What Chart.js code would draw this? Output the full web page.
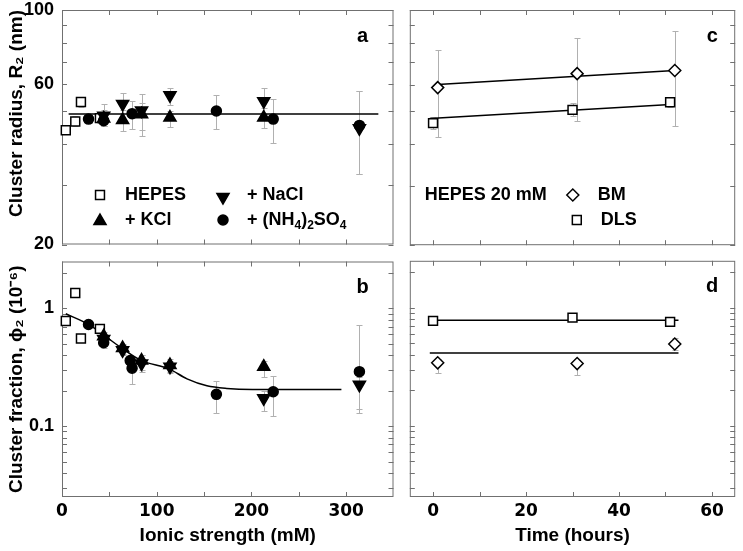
<!DOCTYPE html>
<html>
<head>
<meta charset="utf-8">
<script src="https://cdn.jsdelivr.net/npm/chart.js@4.4.1/dist/chart.umd.min.js"></script>
<style>
  html, body { margin: 0; padding: 0; background: #fff; }
  #wrap { position: relative; width: 743px; height: 551px; overflow: hidden; }
  canvas { position: absolute; }
</style>
</head>
<body>
<div id="wrap">
  <canvas id="pa" width="402" height="253" style="left:0;top:0"></canvas>
  <canvas id="pb" width="402" height="298" style="left:0;top:253px"></canvas>
  <canvas id="pc" width="341" height="253" style="left:402px;top:0"></canvas>
  <canvas id="pd" width="341" height="298" style="left:402px;top:253px"></canvas>
</div>
<script>
// ticks
const ionicTicks = [0, 50, 100, 150, 200, 250, 300];
const ionicLabels = [0, 100, 200, 300];
const timeTicks = [0, 10, 20, 30, 40, 50, 60];
const timeLabels = [0, 20, 40, 60];
const radiusTicks = [20, 30, 40, 50, 60, 70, 80, 90, 100];
const radiusLabels = [20, 60, 100];
const fracTicks = [0.03, 0.04, 0.05, 0.06, 0.07, 0.08, 0.09, 0.1, 0.2, 0.3, 0.4, 0.5, 0.6, 0.7, 0.8, 0.9, 1, 2];
const fracLabels = [0.1, 1];

// panels a / b : ionic strength (mM)
const hepesX = [4, 14, 20, 40];
const hepesR = [43.8, 46.5, 53.2, 47.6];
const hepesRErr = [[43, 44.8], [45, 48.3], [51.5, 55], [46, 49.3]];
const hepesPhi = [0.78, 1.35, 0.555, 0.67];
const hepesPhiErr = [null, null, null, [0.62, 0.74]];

const kclX = [44, 64, 84, 114, 213];
const kclR = [47.5, 47.0, 48.9, 47.8, 47.8];
const kclRErr = [[45, 50.5], [43.5, 50.5], [44, 53], [44.9, 50], [44.5, 51]];
const kclPhi = [0.58, 0.46, 0.36, 0.33, 0.32];
const kclPhiErr = [[0.53, 0.63], [0.41, 0.5], [0.3, 0.4], [0.29, 0.37], [0.26, 0.36]];

const naclX = [44, 64, 84, 114, 213, 314];
const naclR = [48.4, 52.5, 50.2, 55.7, 53.5, 44.4];
const naclRErr = [[45, 52.5], [47, 56.5], [42, 56], [52, 58.5], [49, 58.5], [32.5, 57.3]];
const naclPhi = [0.55, 0.44, 0.34, 0.32, 0.172, 0.224];
const naclPhiErr = [[0.5, 0.6], [0.4, 0.49], [0.29, 0.4], [0.28, 0.36], [0.135, 0.2], [0.14, 0.26]];

const ammRX = [28, 44, 74, 163, 223, 314];
const ammR = [47.3, 46.8, 49.1, 50.0, 47.3, 45.3];
const ammRErr = [[46, 48.5], [45, 49], [44.1, 53.5], [44.1, 55.8], [40.2, 54.4], [32.5, 57.3]];
const ammPhiX = [28, 44, 72, 74, 163, 223, 314];
const ammPhi = [0.73, 0.51, 0.36, 0.31, 0.186, 0.196, 0.29];
const ammPhiErr = [[0.69, 0.77], [0.46, 0.56], [0.33, 0.39], [0.23, 0.35], [0.128, 0.24], [0.123, 0.266], [0.13, 0.72]];

const rFitX = [7, 334];
const rFit = [49, 49];
const phiFitX = [4, 28, 63, 84, 113, 132, 153, 174, 201, 295];
const phiFit = [0.9, 0.73, 0.46, 0.36, 0.306, 0.252, 0.22, 0.209, 0.205, 0.205];

// panels c / d : time (hours)
const bmT = [1, 31, 52];
const bmR = [58.8, 64.7, 66.1];
const bmRErr = [[41.8, 76.1], [46.8, 82.7], [45.2, 86.5]];
const bmPhi = [0.342, 0.337, 0.494];
const bmPhiErr = [[0.278, 0.37], [0.27, 0.36], [0.44, 0.56]];
const dlsT = [0, 30, 51];
const dlsR = [46.1, 50.5, 53.2];
const dlsRErr = [[44.3, 48], [48.3, 52.8], [51.5, 54.8]];
const dlsPhi = [0.775, 0.825, 0.76];

const bmRFitT = [1, 52];
const bmRFit = [60.1, 66.1];
const dlsRFitT = [-0.7, 52];
const dlsRFit = [47.6, 52.5];
const phiFitT = [-0.7, 52.8];
const bmPhiFit = [0.414, 0.414];
const dlsPhiFit = [0.784, 0.784];

const FONT = '"Liberation Sans", Arial, sans-serif';
Chart.defaults.font.family = FONT;
Chart.defaults.color = '#000';

const shapes = {
  square: { style: 'rect', r: 6.3, rot: 0, fill: '#fff' },
  diamond: { style: 'rectRot', r: 6, rot: 0, fill: '#fff' },
  up: { style: 'triangle', r: 7, rot: 0, fill: '#000' },
  down: { style: 'triangle', r: 7, rot: 180, fill: '#000' },
  circle: { style: 'circle', r: 5, rot: 0, fill: '#000' }
};

const pts = (xs, ys) => xs.map((x, i) => ({ x: x, y: ys[i] }));

function markers(shape, xs, ys, errs) {
  const s = shapes[shape];
  return {
    data: pts(xs, ys),
    errs: errs || null,
    pointStyle: s.style,
    pointRadius: s.r,
    pointRotation: s.rot,
    pointBackgroundColor: s.fill,
    pointBorderColor: '#000',
    pointBorderWidth: 1.5,
    showLine: false,
    clip: false
  };
}

function fitLine(xs, ys) {
  return {
    data: pts(xs, ys),
    showLine: true,
    pointRadius: 0,
    borderColor: '#000',
    borderWidth: 1.5,
    cubicInterpolationMode: 'monotone',
    clip: false
  };
}

function drawMarker(ctx, shape, x, y) {
  const s = shapes[shape];
  ctx.save();
  ctx.fillStyle = s.fill;
  ctx.strokeStyle = '#000';
  ctx.lineWidth = 1.5;
  Chart.helpers.drawPoint(ctx, { pointStyle: s.style, radius: s.r, rotation: s.rot, borderWidth: 1.5 }, x, y);
  ctx.restore();
}

function drawRich(ctx, parts, x, y) {
  parts.forEach(p => {
    ctx.font = p[1] ? 'bold 12px ' + FONT : 'bold 18px ' + FONT;
    ctx.fillText(p[0], x, p[1] ? y + 6 : y);
    x += ctx.measureText(p[0]).width;
  });
}

// gray error bars under the markers
const errorBars = {
  id: 'errorBars',
  beforeDatasetsDraw(chart) {
    const { ctx } = chart;
    const xs = chart.scales.x, ys = chart.scales.y;
    ctx.save();
    ctx.strokeStyle = '#b0b0b0';
    ctx.lineWidth = 1;
    chart.data.datasets.forEach(ds => {
      if (!ds.errs) return;
      ds.data.forEach((p, i) => {
        const e = ds.errs[i];
        if (!e) return;
        const px = Math.round(xs.getPixelForValue(p.x)) + 0.5;
        const y0 = Math.round(ys.getPixelForValue(e[0])) + 0.5;
        const y1 = Math.round(ys.getPixelForValue(e[1])) + 0.5;
        ctx.beginPath();
        ctx.moveTo(px, y0); ctx.lineTo(px, y1);
        ctx.moveTo(px - 3, y0); ctx.lineTo(px + 3, y0);
        ctx.moveTo(px - 3, y1); ctx.lineTo(px + 3, y1);
        ctx.stroke();
      });
    });
    ctx.restore();
  }
};

// frame, inward ticks, panel letter and legend
const deco = {
  id: 'deco',
  beforeDatasetsDraw(chart) {
    const { ctx, chartArea: a } = chart;
    const xs = chart.scales.x, ys = chart.scales.y;
    ctx.save();
    ctx.strokeStyle = '#707070';
    ctx.lineWidth = 1;
    ctx.strokeRect(a.left + 0.5, a.top + 0.5, a.right - a.left - 1, a.bottom - a.top - 1);
    ctx.beginPath();
    xs.ticks.forEach(t => {
      const px = Math.round(xs.getPixelForValue(t.value)) + 0.5;
      ctx.moveTo(px, a.bottom); ctx.lineTo(px, a.bottom - 5);
      ctx.moveTo(px, a.top); ctx.lineTo(px, a.top + 5);
    });
    ys.ticks.forEach(t => {
      const py = Math.round(ys.getPixelForValue(t.value)) + 0.5;
      ctx.moveTo(a.left, py); ctx.lineTo(a.left + 5, py);
      ctx.moveTo(a.right, py); ctx.lineTo(a.right - 5, py);
    });
    ctx.stroke();
    ctx.restore();
  },
  afterDraw(chart, args, opts) {
    const { ctx, chartArea: a } = chart;
    ctx.save();
    ctx.fillStyle = '#000';
    ctx.textBaseline = 'middle';
    ctx.textAlign = 'center';
    ctx.font = 'bold 20px ' + FONT;
    ctx.fillText(opts.letter, a.right - opts.letterDx, a.top + 26);
    ctx.textAlign = 'left';
    (opts.items || []).forEach(it => {
      if (it.shape) drawMarker(ctx, it.shape, a.left + it.mx, a.top + it.my);
      drawRich(ctx, it.parts, a.left + it.tx, a.top + it.ty);
    });
    ctx.restore();
  }
};

function xScale(tickVals, labelVals, min, max, show, title) {
  return {
    type: 'linear', min: min, max: max,
    grid: { display: false, drawTicks: false },
    border: { display: false },
    afterBuildTicks: s => { s.ticks = tickVals.map(v => ({ value: v })); },
    ticks: {
      display: show, autoSkip: false, maxRotation: 0, padding: 4,
      font: { family: '"DejaVu Sans"', size: 17, weight: 'bold' },
      callback: v => labelVals.includes(v) ? String(v) : ''
    },
    title: {
      display: !!title, text: title || '',
      font: { size: 19, weight: 'bold' },
      padding: { top: 0, bottom: 4 }
    },
    afterFit: s => { s.height = show ? 54 : 3; s.paddingLeft = 0; s.paddingRight = 0; }
  };
}

function yScale(tickVals, labelVals, min, max, show, title, align) {
  return {
    type: 'logarithmic', min: min, max: max,
    grid: { display: false, drawTicks: false },
    border: { display: false },
    afterBuildTicks: s => { s.ticks = tickVals.map(v => ({ value: v })); },
    ticks: {
      display: show, autoSkip: false, padding: 8,
      font: { size: 18, weight: 'bold' },
      callback: v => labelVals.includes(v) ? String(v) : ''
    },
    title: {
      display: !!title, text: title || '', align: align || 'center',
      font: { size: 19, weight: 'bold' },
      padding: { top: 5, bottom: 0 }
    },
    afterFit: s => { s.width = show ? 62 : 5; s.paddingTop = 0; s.paddingBottom = 0; }
  };
}

function panel(id, datasets, x, y, padding, decoOpts) {
  return new Chart(document.getElementById(id), {
    type: 'scatter',
    data: { datasets: datasets },
    options: {
      responsive: false,
      animation: false,
      devicePixelRatio: 1,
      events: [],
      layout: { padding: padding },
      scales: { x: x, y: y },
      plugins: { legend: { display: false }, tooltip: { enabled: false }, deco: decoOpts }
    },
    plugins: [deco, errorBars]
  });
}

// a: cluster radius vs ionic strength
panel('pa', [
  markers('circle', ammRX, ammR, ammRErr),
  markers('up', kclX, kclR, kclRErr),
  markers('down', naclX, naclR, naclRErr),
  markers('square', hepesX, hepesR, hepesRErr),
  fitLine(rFitX, rFit)
],
  xScale(ionicTicks, ionicLabels, 0, 350, false),
  yScale(radiusTicks, radiusLabels, 20, 100, true, 'Cluster radius, R\u2082 (nm)', 'end'),
  { top: 10, right: 4, left: 0, bottom: 0 },
  { letter: 'a', letterDx: 31, items: [
    { shape: 'square', mx: 38, my: 185, tx: 63, ty: 185, parts: [['HEPES']] },
    { shape: 'down', mx: 161, my: 187, tx: 185, ty: 185, parts: [['+ NaCl']] },
    { shape: 'up', mx: 38, my: 211, tx: 63, ty: 210, parts: [['+ KCl']] },
    { shape: 'circle', mx: 161, my: 210, tx: 185, ty: 210,
      parts: [['+ (NH'], ['4', 1], [')'], ['2', 1], ['SO'], ['4', 1]] }
  ] });

// b: cluster fraction vs ionic strength
panel('pb', [
  markers('circle', ammPhiX, ammPhi, ammPhiErr),
  markers('up', kclX, kclPhi, kclPhiErr),
  markers('down', naclX, naclPhi, naclPhiErr),
  markers('square', hepesX, hepesPhi, hepesPhiErr),
  fitLine(phiFitX, phiFit)
],
  xScale(ionicTicks, ionicLabels, 0, 350, true, 'Ionic strength (mM)'),
  yScale(fracTicks, fracLabels, 0.025, 2.5, true, 'Cluster fraction, \u03d5\u2082 (10\u207b\u2076)'),
  { top: 4, right: 4, left: 0, bottom: 0 },
  { letter: 'b', letterDx: 31 });

// c: cluster radius vs time
panel('pc', [
  markers('diamond', bmT, bmR, bmRErr),
  markers('square', dlsT, dlsR, dlsRErr),
  fitLine(bmRFitT, bmRFit),
  fitLine(dlsRFitT, dlsRFit)
],
  xScale(timeTicks, timeLabels, -5, 65, false),
  yScale(radiusTicks, radiusLabels, 20, 100, false),
  { top: 10, right: 2, left: 0, bottom: 0 },
  { letter: 'c', letterDx: 23, items: [
    { tx: 15, ty: 185, parts: [['HEPES 20 mM']] },
    { shape: 'diamond', mx: 163, my: 185, tx: 188, ty: 185, parts: [['BM']] },
    { shape: 'square', mx: 167, my: 210, tx: 191, ty: 210, parts: [['DLS']] }
  ] });

// d: cluster fraction vs time
panel('pd', [
  markers('diamond', bmT, bmPhi, bmPhiErr),
  markers('square', dlsT, dlsPhi),
  fitLine(phiFitT, bmPhiFit),
  fitLine(phiFitT, dlsPhiFit)
],
  xScale(timeTicks, timeLabels, -5, 65, true, 'Time (hours)'),
  yScale(fracTicks, fracLabels, 0.025, 2.5, false),
  { top: 4, right: 2, left: 0, bottom: 0 },
  { letter: 'd', letterDx: 23 });
</script>
</body>
</html>
